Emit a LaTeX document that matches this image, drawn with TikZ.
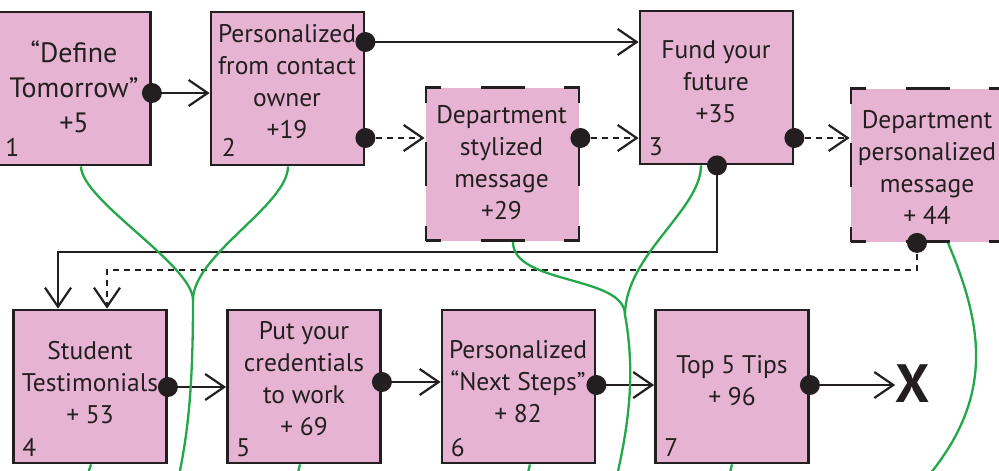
\documentclass[tikz,border=0pt]{standalone}
\usepackage{fontspec}
\setmainfont{PT Sans}
\usetikzlibrary{arrows.meta}
\definecolor{boxpink}{RGB}{230,179,210}
\definecolor{ink}{RGB}{35,31,32}
\definecolor{vine}{RGB}{34,168,72}

\begin{document}
\begin{tikzpicture}[x=1pt,y=-1pt,
  card/.style={draw=ink, line width=2.8pt, fill=boxpink, minimum width=153pt,
    minimum height=153pt, inner sep=0pt},
  dashcard/.style={card, dash pattern=on 30pt off 39.5pt on 44pt off 39.5pt, dash phase=15pt},
  label/.style={font=\fontsize{25.5}{32}\selectfont, text=ink, align=center, inner sep=0pt},
  biglabel/.style={font=\fontsize{28}{35}\selectfont, text=ink, align=center, inner sep=0pt},
  num/.style={font=\fontsize{25.5}{32}\selectfont, text=ink, inner sep=0pt, anchor=base west},
  dot/.style={circle, fill=ink, minimum size=20pt, inner sep=0pt},
  link/.style={draw=ink, line width=2.2pt, -{Straight Barb[length=19pt,width=26pt]}},
  dlink/.style={link, dash pattern=on 6pt off 5pt},
  vine/.style={draw=vine, line width=2.3pt}
]
\useasboundingbox (0,0) rectangle (999,471);

% boxes
\node[card]     (b1) at (74,88.5)    {};
\node[card]     (b2) at (287.5,88.5) {};
\node[dashcard] (ds) at (502.5,164)  {};
\node[card]     (b3) at (716.5,87.5) {};
\node[dashcard] (dp) at (927.5,165)  {};
\node[card]     (b4) at (90,386.5)   {};
\node[card]     (b5) at (304,386.5)  {};
\node[card]     (b6) at (518.5,386.5){};
\node[card]     (b7) at (732,386.5)  {};

% box texts
\node[biglabel] (t1) at (74,86.9)    {“Define\\Tomorrow”\\+5};
\node[label]    (t2) at (287,81.3)   {Personalized\\from contact\\owner\\+19};
\node[label]    (ts) at (501.5,162.5){Department\\stylized\\message\\+29};
\node[label]    (t3) at (716,82)     {Fund your\\future\\+35};
\node[label]    (tp) at (927,167.5)  {Department\\personalized\\message\\+ 44};
\node[label]    (t4) at (90,382.3)   {Student\\Testimonials\\+ 53};
\node[label]    (t5) at (304,379)    {Put your\\credentials\\to work\\+ 69};
\node[label]    (t6) at (518,382)    {Personalized\\“Next Steps”\\+ 82};
\node[label]    (t7) at (732,380.5)  {Top 5 Tips\\+ 96};

% step numbers
\node[num] (n1) at ([shift={(9,-10)}]b1.south west) {1};
\node[num] (n2) at ([shift={(12,-10)}]b2.south west) {2};
\node[num] (n3) at ([shift={(10,-10)}]b3.south west) {3};
\node[num] (n4) at ([shift={(10,-8)}]b4.south west) {4};
\node[num] (n5) at ([shift={(10,-8)}]b5.south west) {5};
\node[num] (n6) at ([shift={(10,-8)}]b6.south west) {6};
\node[num] (n7) at ([shift={(10,-8)}]b7.south west) {7};

% end mark
\node[font=\fontsize{54}{54}\selectfont\bfseries, text=ink, inner sep=0pt] (xend) at (912.5,384) {X};

% connection dots
\node[dot] (d1)  at (b1.east |- 0,93)  {};
\node[dot] (d2a) at (b2.east |- 0,42)  {};
\node[dot] (d2b) at (b2.east |- 0,138) {};
\node[dot] (dds) at (ds.east |- 0,138) {};
\node[dot] (d3r) at (b3.east |- 0,138) {};
\node[dot] (d3b) at (b3.south -| 717,0) {};
\node[dot] (ddp) at (dp.south -| 917,0) {};
\node[dot] (d4)  at (b4.east |- 0,387) {};
\node[dot] (d5)  at (b5.east |- 0,382) {};
\node[dot] (d6)  at (b6.east |- 0,385) {};
\node[dot] (d7)  at (b7.east |- 0,385) {};

% bend points of the return lines
\coordinate (r1) at (58,252);
\coordinate (r2) at (107,270);

% connectors
\draw[link]  (d1.center)  -- (d1 -| b2.west);
\draw[link]  (d2a.center) -- (d2a -| b3.west);
\draw[dlink] (d2b.center) -- (d2b -| ds.west);
\draw[dlink] (dds.center) -- (dds -| b3.west);
\draw[dlink] (d3r.center) -- (d3r -| dp.west);
\draw[link]  (d3b.center) |- (r1) -- (r1 |- b4.north);
\draw[dlink] (ddp.center) |- (r2) -- (r2 |- b4.north);
\draw[link]  (d4.center)  -- (d4 -| b5.west);
\draw[link]  (d5.center)  -- (d5 -| b6.west);
\draw[link]  (d6.center)  -- (d6 -| b7.west);
\draw[link]  (d7.center)  -- (d7 -| xend.west);

% green threads
\draw[vine] (b1.south -| 81,0) .. controls (81,200) and (193,265) .. (193,300);
\draw[vine] (b2.south -| 288,0) .. controls (288,205) and (193,255) .. (193,300);
\draw[vine] (193,300) .. controls (193,380) and (189,430) .. (178,480);
\draw[vine] (ds.south -| 513,0) .. controls (513,285) and (625,275) .. (625,315);
\draw[vine] (b3.south -| 701,0) .. controls (701,210) and (625,255) .. (625,315);
\draw[vine] (625,315) .. controls (635,370) and (630,420) .. (616,480);
\draw[vine] (dp.south -| 948,0) .. controls (985,330) and (993,400) .. (925,480);
\draw[vine] (b4.south -| 91,0)  -- (86,480);
\draw[vine] (b5.south -| 300,0) -- (296,480);
\draw[vine] (b6.south -| 530,0) -- (526,480);
\draw[vine] (b7.south -| 732,0) -- (728,480);
\end{tikzpicture}
\end{document}
